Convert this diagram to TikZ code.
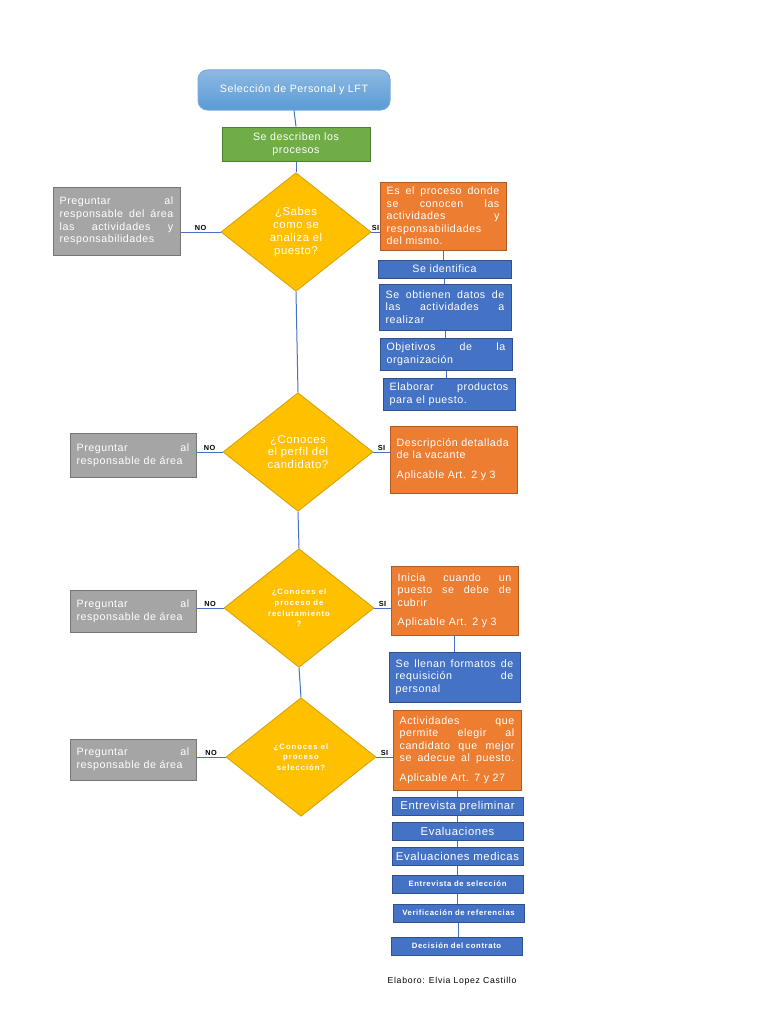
\documentclass[tikz,border=0pt]{standalone}
\usepackage{fontspec}
\setmainfont{Liberation Sans}[LetterSpace=5]
\usetikzlibrary{shapes.geometric}
\definecolor{skyblue}{RGB}{91, 155, 213}
\definecolor{skyedge}{RGB}{120, 170, 220}
\definecolor{leafgreen}{RGB}{112, 173, 71}
\definecolor{leafedge}{RGB}{80, 126, 50}
\definecolor{sunflower}{RGB}{255, 192, 0}
\definecolor{sunedge}{RGB}{214, 160, 0}
\definecolor{tangerine}{RGB}{237, 125, 49}
\definecolor{tangedge}{RGB}{174, 90, 33}
\definecolor{cobalt}{RGB}{68, 114, 196}
\definecolor{cobaltedge}{RGB}{47, 82, 143}
\definecolor{slate}{RGB}{165, 165, 165}
\definecolor{slateedge}{RGB}{118, 118, 118}

\begin{document}
\begin{tikzpicture}[x=0.75pt, y=-0.75pt,
        box/.style    ={draw, line width=0.75pt, inner xsep=5pt, inner ysep=1pt, text=white,
                        align=left, font=\fontsize{8}{9.4}\selectfont},
        askbox/.style ={box, fill=slate,     draw=slateedge},
        infobox/.style={box, fill=tangerine, draw=tangedge},
        stepbox/.style={box, fill=cobalt,    draw=cobaltedge},
        listbox/.style={stepbox, align=center, inner xsep=1pt, text width=96.25pt, minimum height=13.5pt},
        decide/.style ={diamond, draw=sunedge, fill=sunflower, line width=0.6pt, inner sep=0pt,
                        minimum width=112.5pt, minimum height=89pt, text=white, align=center},
        link/.style   ={draw=cobalt, line width=0.75pt},
        yesno/.style  ={above, inner sep=1pt, text=black, font=\fontsize{5.5}{6}\selectfont\bfseries}]
    \useasboundingbox (0,0) rectangle (768,1024);

    % cabecera
    \node[rounded corners=7pt, draw=skyedge, line width=0.75pt, top color=skyblue!70!white, bottom color=skyblue,
          minimum width=144pt, minimum height=30pt, text=white, font=\fontsize{8}{9.4}\selectfont]
          (title) at (294, 90) {Selección de Personal y LFT};
    \node[box, fill=leafgreen, draw=leafedge, align=center, minimum width=111pt, minimum height=25.5pt]
          (green) at (296, 144) {Se describen los\\procesos};

    % preguntas
    \node[decide, font=\fontsize{8.5}{9.8}\selectfont] (d1) at (296, 232) {¿Sabes\\como se\\analiza el\\puesto?};
    \node[decide, font=\fontsize{8.5}{9.5}\selectfont] (d2) at (298, 452) {¿Conoces\\el perfil del\\candidato?};
    \node[decide, font=\fontsize{5.8}{8}\selectfont\bfseries\addfontfeature{LetterSpace=12}]
          (d3) at (299, 608) {¿Conoces el\\proceso de\\reclutamiento\\?};
    \node[decide, font=\fontsize{5.8}{8}\selectfont\bfseries\addfontfeature{LetterSpace=12}]
          (d4) at (301, 757) {¿Conoces el\\proceso\\selección?};

    % lado NO
    \node[askbox, text width=85.25pt, minimum height=51pt] (g1) at (116.5, 221)
          {Preguntar\hfill al\\responsable\hfill del\hfill área\\las\hfill actividades\hfill y\\responsabilidades};
    \node[askbox, text width=84.5pt, minimum height=33pt] (g2) at (133, 455)
          {Preguntar\hfill al\\responsable de área};
    \node[askbox, text width=84.5pt, minimum height=31.5pt] (g3) at (133, 611)
          {Preguntar\hfill al\\responsable de área};
    \node[askbox, text width=84.5pt, minimum height=30.75pt] (g4) at (133, 759.5)
          {Preguntar\hfill al\\responsable de área};

    % lado SI
    \node[infobox, text width=84.5pt, minimum height=51pt] (o1) at (443, 216)
          {Es\hfill el\hfill proceso\hfill donde\\se\hfill conocen\hfill las\\actividades\hfill y\\responsabilidades\\del mismo.};
    \node[stepbox, align=center, text width=89.75pt, minimum height=13.5pt] (b1) at (444.5, 269) {Se identifica};
    \node[stepbox, text width=89pt, minimum height=34.5pt] (b2) at (445, 307)
          {Se\hfill obtienen\hfill datos\hfill de\\las\hfill actividades\hfill a\\realizar};
    \node[stepbox, text width=89pt, minimum height=24pt] (b3) at (446, 354)
          {Objetivos\hfill de\hfill la\\organización};
    \node[stepbox, text width=89pt, minimum height=24pt] (b4) at (449, 394)
          {Elaborar\hfill productos\\para el puesto.};

    \node[infobox, text width=85.25pt, minimum height=50.25pt] (o2) at (453.5, 459.5)
          {Descripción detallada\\de la vacante\\[5pt]Aplicable Art. 2 y 3};

    \node[infobox, text width=85.25pt, minimum height=51.75pt] (o3) at (454.5, 600.5)
          {Inicia\hfill cuando\hfill un\\puesto\hfill se\hfill debe\hfill de\\cubrir\\[5pt]Aplicable Art. 2 y 3};
    \node[stepbox, text width=88.25pt, minimum height=37.5pt] (b5) at (454.5, 677)
          {Se\hfill llenan\hfill formatos\hfill de\\requisición\hfill de\\personal};

    \node[infobox, text width=86pt, minimum height=60pt] (o4) at (457, 750)
          {Actividades\hfill que\\permite\hfill elegir\hfill al\\candidato\hfill que\hfill mejor\\se\hfill adecue\hfill al\hfill puesto.\\[5pt]Aplicable Art. 7 y 27};
    \node[listbox, font=\fontsize{8.5}{9}\selectfont] (l1) at (457.5, 806.5) {Entrevista preliminar};
    \node[listbox, font=\fontsize{8.5}{9}\selectfont] (l2) at (457.5, 831)   {Evaluaciones};
    \node[listbox, font=\fontsize{8.5}{9}\selectfont] (l3) at (457.5, 856)   {Evaluaciones medicas};
    \node[listbox, font=\fontsize{5.8}{6}\selectfont\bfseries\addfontfeature{LetterSpace=8}] (l4) at (457.5, 884) {Entrevista de selección};
    \node[listbox, font=\fontsize{5.8}{6}\selectfont\bfseries\addfontfeature{LetterSpace=8}] (l5) at (458.5, 913) {Verificación de referencias};
    \node[listbox, font=\fontsize{5.8}{6}\selectfont\bfseries\addfontfeature{LetterSpace=8}] (l6) at (456.5, 946) {Decisión del contrato};

    \node[font=\fontsize{6.5}{7}\selectfont\addfontfeature{LetterSpace=8}] (sign) at (452, 981) {Elaboro: Elvia Lopez Castillo};

    % conectores
    \draw[link] (title.south) -- (green.north);
    \draw[link] (green.south) -- (d1.north);
    \draw[link] (d1.south) -- (d2.north);
    \draw[link] (d2.south) -- (d3.north);
    \draw[link] (d3.south) -- (d4.north);

    \foreach \q/\g/\o in {d1/g1/o1, d2/g2/o2, d3/g3/o3, d4/g4/o4} {
        \draw[link] (\q.west) -- node[yesno] {NO} (\q.west -| \g.east);
        \draw[link] (\q.east) -- node[yesno] {SI} (\q.east -| \o.west);
    }

    \foreach \a/\b in {o1/b1, b1/b2, b2/b3, b3/b4, o3/b5, o4/l1, l1/l2, l2/l3, l3/l4, l4/l5, l5/l6}
        \draw[link] (\a.south) -- (\a.south |- \b.north);
\end{tikzpicture}
\end{document}
